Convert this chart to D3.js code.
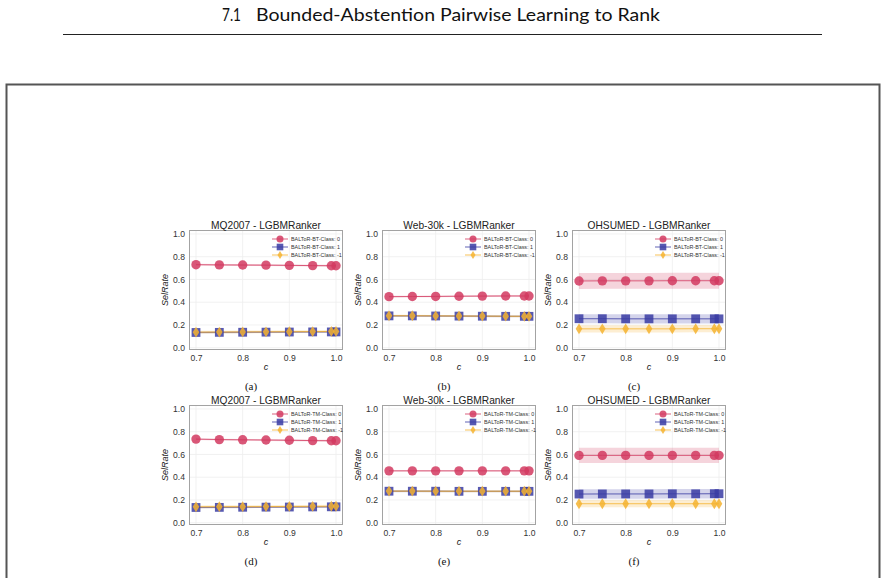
<!DOCTYPE html>
<html><head><meta charset="utf-8">
<script src="https://cdn.jsdelivr.net/npm/d3@7"></script>
<style>body{margin:0;background:#fff}svg{display:block}</style>
</head><body><svg id="c" width="887" height="578"></svg>
<script>
// ---------------- data ----------------
const cValues = [0.7, 0.75, 0.8, 0.85, 0.9, 0.95, 0.99, 1.0];
const xTicks = [0.7, 0.8, 0.9, 1.0];
const yTicks = [0.0, 0.2, 0.4, 0.6, 0.8, 1.0];
const classLabels = ["0", "1", "-1"];

// (a) MQ2007 BT
const mqBT_c0  = [0.730, 0.728, 0.727, 0.726, 0.724, 0.722, 0.721, 0.721];
const mqBT_c1  = [0.134, 0.135, 0.136, 0.137, 0.138, 0.139, 0.139, 0.139];
const mqBT_cm1 = [0.137, 0.138, 0.139, 0.140, 0.141, 0.142, 0.143, 0.143];
const mqBT_err = [0.008, 0.008, 0.012];
// (b) Web-30k BT
const webBT_c0  = [0.449, 0.450, 0.451, 0.453, 0.454, 0.455, 0.455, 0.455];
const webBT_c1  = [0.280, 0.280, 0.279, 0.278, 0.277, 0.276, 0.276, 0.276];
const webBT_cm1 = [0.281, 0.281, 0.280, 0.279, 0.278, 0.277, 0.276, 0.276];
const webBT_err = [0.007, 0.008, 0.008];
// (c) OHSUMED BT
const ohsBT_c0  = [0.587, 0.588, 0.588, 0.588, 0.589, 0.589, 0.589, 0.589];
const ohsBT_c1  = [0.255, 0.255, 0.254, 0.254, 0.254, 0.254, 0.254, 0.254];
const ohsBT_cm1 = [0.166, 0.166, 0.166, 0.166, 0.166, 0.167, 0.167, 0.167];
const ohsBT_err = [0.070, 0.040, 0.032];
// (d) MQ2007 TM
const mqTM_c0  = [0.735, 0.731, 0.729, 0.727, 0.725, 0.722, 0.721, 0.721];
const mqTM_c1  = [0.134, 0.135, 0.136, 0.137, 0.138, 0.139, 0.140, 0.140];
const mqTM_cm1 = [0.140, 0.141, 0.141, 0.142, 0.143, 0.144, 0.145, 0.145];
const mqTM_err = [0.008, 0.008, 0.012];
// (e) Web-30k TM
const webTM_c0  = [0.456, 0.456, 0.456, 0.456, 0.456, 0.456, 0.456, 0.456];
const webTM_c1  = [0.277, 0.277, 0.277, 0.276, 0.276, 0.276, 0.276, 0.276];
const webTM_cm1 = [0.278, 0.278, 0.277, 0.277, 0.277, 0.277, 0.277, 0.277];
const webTM_err = [0.006, 0.008, 0.008];
// (f) OHSUMED TM
const ohsTM_c0  = [0.592, 0.592, 0.592, 0.592, 0.592, 0.592, 0.592, 0.592];
const ohsTM_c1  = [0.252, 0.253, 0.253, 0.253, 0.254, 0.254, 0.255, 0.255];
const ohsTM_cm1 = [0.167, 0.167, 0.167, 0.167, 0.167, 0.167, 0.167, 0.167];
const ohsTM_err = [0.068, 0.042, 0.032];

const panelTitles = ["MQ2007 - LGBMRanker", "Web-30k - LGBMRanker", "OHSUMED - LGBMRanker",
                     "MQ2007 - LGBMRanker", "Web-30k - LGBMRanker", "OHSUMED - LGBMRanker"];
const subLabels = ["(a)", "(b)", "(c)", "(d)", "(e)", "(f)"];
const methods = ["BT", "BT", "BT", "TM", "TM", "TM"];
const panelSeries = [
  [mqBT_c0, mqBT_c1, mqBT_cm1], [webBT_c0, webBT_c1, webBT_cm1], [ohsBT_c0, ohsBT_c1, ohsBT_cm1],
  [mqTM_c0, mqTM_c1, mqTM_cm1], [webTM_c0, webTM_c1, webTM_cm1], [ohsTM_c0, ohsTM_c1, ohsTM_cm1]
];
const panelErr = [mqBT_err, webBT_err, ohsBT_err, mqTM_err, webTM_err, ohsTM_err];

// ---------------- layout ----------------
const FONT = "'Liberation Sans', Arial, sans-serif";
const colors = ["#d23a60", "#3a3ca3", "#f5b330"];
const colLeft = [189, 382, 572];
const rowTop = [230, 405];
const pw = 154, ph = 120;

const svg = d3.select("#c");

// page header
svg.append("text").attr("x", 222).attr("y", 21)
  .attr("font-family", "Lato, 'DejaVu Sans', sans-serif").attr("font-size", 17).attr("fill", "#111")
  .attr("textLength", 19).attr("lengthAdjust", "spacingAndGlyphs").text("7.1");
svg.append("text").attr("x", 256).attr("y", 21)
  .attr("font-family", "Lato, 'DejaVu Sans', sans-serif").attr("font-size", 17).attr("fill", "#111")
  .attr("textLength", 404).attr("lengthAdjust", "spacingAndGlyphs")
  .text("Bounded-Abstention Pairwise Learning to Rank");
svg.append("line").attr("x1", 63).attr("x2", 822).attr("y1", 34.5).attr("y2", 34.5)
  .attr("stroke", "#222").attr("stroke-width", 1);

// outer box
svg.append("rect").attr("x", 6.5).attr("y", 84.5).attr("width", 873).attr("height", 520)
  .attr("fill", "none").attr("stroke", "#555").attr("stroke-width", 2);

function drawMarker(g, k, x, y, s) {
  if (k === 2) {
    const w = 3.3 * s, h = 5.4 * s;
    g.append("path").attr("d", `M${x},${y - h}L${x + w},${y}L${x},${y + h}L${x - w},${y}Z`)
      .attr("fill", colors[k]).attr("fill-opacity", 0.85);
  } else if (k === 1) {
    const a = 4.4 * s;
    g.append("rect").attr("x", x - a).attr("y", y - a).attr("width", 2 * a).attr("height", 2 * a)
      .attr("fill", colors[k]).attr("fill-opacity", 0.85);
  } else {
    g.append("circle").attr("cx", x).attr("cy", y).attr("r", 4.7 * s)
      .attr("fill", colors[k]).attr("fill-opacity", 0.85);
  }
}

panelSeries.forEach((series, i) => {
  const col = i % 3, row = Math.floor(i / 3);
  const L = colLeft[col], T = rowTop[row];
  const x = d3.scaleLinear().domain([0.685, 1.015]).range([L, L + pw]);
  const y = d3.scaleLinear().domain([-0.02, 1.035]).range([T + ph, T]);
  const g = svg.append("g");

  // grid
  g.selectAll(".gx").data(xTicks).enter().append("line")
    .attr("x1", d => x(d)).attr("x2", d => x(d)).attr("y1", T).attr("y2", T + ph)
    .attr("stroke", "#eeeeee").attr("stroke-width", 0.8);
  g.selectAll(".gy").data(yTicks).enter().append("line")
    .attr("y1", d => y(d)).attr("y2", d => y(d)).attr("x1", L).attr("x2", L + pw)
    .attr("stroke", "#eeeeee").attr("stroke-width", 0.8);

  // axes (labels only)
  const xa = g.append("g").attr("transform", `translate(0,${T + ph})`)
    .call(d3.axisBottom(x).tickValues(xTicks).tickFormat(d3.format(".1f")).tickSize(0).tickPadding(5));
  const ya = g.append("g").attr("transform", `translate(${L},0)`)
    .call(d3.axisLeft(y).tickValues(yTicks).tickFormat(d3.format(".1f")).tickSize(0).tickPadding(4));
  [xa, ya].forEach(a => {
    a.select(".domain").remove();
    a.selectAll("text").attr("font-family", FONT).attr("font-size", 8.6).attr("fill", "#333");
  });

  // frame
  g.append("rect").attr("x", L + 0.5).attr("y", T + 0.5).attr("width", pw - 1).attr("height", ph - 1)
    .attr("fill", "none").attr("stroke", "#a3a3a3").attr("stroke-width", 1);

  // bands, lines, markers
  series.forEach((vals, k) => {
    const e = panelErr[i][k];
    const area = d3.area().x((d, j) => x(cValues[j])).y0(d => y(d - e)).y1(d => y(d + e));
    g.append("path").datum(vals).attr("d", area).attr("fill", colors[k]).attr("fill-opacity", 0.22);
    const line = d3.line().x((d, j) => x(cValues[j])).y(d => y(d));
    g.append("path").datum(vals).attr("d", line).attr("fill", "none")
      .attr("stroke", colors[k]).attr("stroke-width", 1).attr("stroke-opacity", 0.8);
  });
  series.forEach((vals, k) => {
    vals.forEach((v, j) => drawMarker(g, k, x(cValues[j]), y(v), 1));
  });

  // legend
  classLabels.forEach((lab, k) => {
    const ly = T + 9 + k * 8;
    const lx = L + pw - 63;
    g.append("line").attr("x1", lx - 8).attr("x2", lx + 8).attr("y1", ly).attr("y2", ly)
      .attr("stroke", colors[k]).attr("stroke-width", 1).attr("stroke-opacity", 0.8);
    drawMarker(g, k, lx, ly, 0.75);
    g.append("text").attr("x", lx + 11).attr("y", ly + 1.9)
      .attr("font-family", FONT).attr("font-size", 5.4).attr("fill", "#333")
      .text(`BALToR-${methods[i]}-Class: ${lab}`);
  });

  // title
  g.append("text").attr("x", L + pw / 2).attr("y", T - 1).attr("text-anchor", "middle")
    .attr("font-family", FONT).attr("font-size", 10.2).attr("fill", "#222")
    .text(panelTitles[i]);
  // y label
  g.append("text").attr("transform", `translate(${L - 21},${T + ph / 2}) rotate(-90)`)
    .attr("text-anchor", "middle").attr("font-family", FONT)
    .attr("font-size", 9).attr("font-style", "italic").attr("fill", "#222").text("SelRate");
  // x label
  g.append("text").attr("x", L + pw / 2).attr("y", T + ph + 20).attr("text-anchor", "middle")
    .attr("font-family", FONT).attr("font-size", 9).attr("font-style", "italic")
    .attr("fill", "#222").text("c");
  // sub label
  g.append("text").attr("x", L + pw / 2 - 15).attr("y", T + ph + 40).attr("text-anchor", "middle")
    .attr("font-family", "'Liberation Serif', serif").attr("font-size", 11).attr("fill", "#111")
    .text(subLabels[i]);
});
</script></body></html>
